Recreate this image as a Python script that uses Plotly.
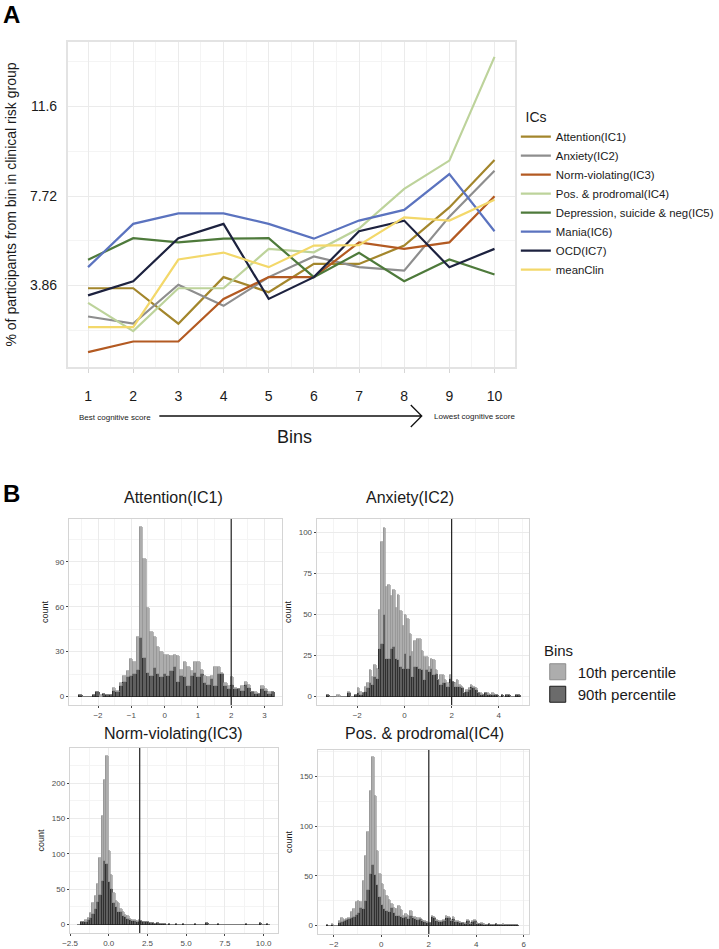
import numpy as np
import plotly.graph_objects as go

W, H = 719, 949
def px(x): return x / W
def py(y): return 1 - y / H

FONT = "Liberation Sans, Arial, Helvetica, sans-serif"

# ---------------- Panel A data ----------------
bins = [1, 2, 3, 4, 5, 6, 7, 8, 9, 10]
ic_names = ["Attention(IC1)", "Anxiety(IC2)", "Norm-violating(IC3)", "Pos. & prodromal(IC4)",
            "Depression, suicide & neg(IC5)", "Mania(IC6)", "OCD(IC7)", "meanClin"]
attention = [3.74, 3.74, 2.21, 4.22, 3.57, 4.79, 4.79, 5.58, 7.23, 9.28]
anxiety = [2.52, 2.21, 3.89, 2.98, 4.22, 5.11, 4.65, 4.50, 6.83, 8.81]
norm_violating = [0.98, 1.44, 1.44, 3.28, 4.22, 4.22, 5.72, 5.44, 5.72, 7.71]
pos_prodromal = [3.11, 1.89, 3.74, 3.74, 5.44, 5.29, 6.32, 8.03, 9.25, 13.73]
depression = [4.97, 5.90, 5.72, 5.88, 5.90, 4.22, 5.27, 4.04, 4.98, 4.33]
mania = [4.65, 6.52, 6.97, 6.97, 6.52, 5.88, 6.66, 7.12, 8.67, 6.20]
ocd = [3.43, 4.04, 5.90, 6.52, 3.28, 4.22, 6.20, 6.66, 4.65, 5.44]
mean_clin = [2.06, 2.06, 4.98, 5.28, 4.65, 5.58, 5.60, 6.80, 6.66, 7.56]
y_ticks_a = [3.86, 7.72, 11.6]
ic_colors = ["#A3862C", "#8E8E8E", "#B35A22", "#BDD39B", "#4E7A3B", "#5B73BF", "#1D223F", "#F3D86A"]

# ---------------- Panel B data (histogram bin counts) ----------------
# each panel: first bin centre, bin width, bar tops (total), 90th percentile counts
att_first, att_width = -2.52, 0.1013
att_total = [1, 0, 0, 0, 1, 3, 1, 2, 1, 1,
             6, 4, 9, 14, 17, 25, 23, 40, 113, 92,
             59, 43, 40, 33, 30, 28, 28, 27, 28, 27,
             18, 23, 20, 17, 23, 23, 18, 14, 13, 14,
             20, 20, 16, 9, 7, 13, 6, 5, 7, 10,
             8, 3, 3, 2, 7, 5, 3, 3]
att_p90 = [1, 0, 0, 0, 1, 3, 0, 2, 1, 1,
           4, 3, 7, 10, 13, 14, 15, 18, 39, 26,
           16, 14, 19, 15, 13, 15, 14, 17, 20, 10,
           14, 13, 7, 14, 16, 13, 15, 9, 8, 12,
           7, 15, 15, 7, 5, 8, 5, 5, 4, 8,
           6, 3, 2, 2, 5, 4, 2, 3]

anx_first, anx_width = -3.24, 0.1
anx_total = [1, 0, 0, 0, 1, 1, 0, 0, 0, 3,
             0, 0, 1, 5, 3, 2, 6, 8, 16, 12,
             19, 17, 53, 94, 103, 67, 68, 61, 65, 54,
             62, 52, 43, 50, 47, 38, 27, 34, 35, 35,
             28, 24, 24, 18, 23, 22, 16, 10, 13, 13,
             10, 8, 13, 9, 8, 10, 7, 6, 2, 4,
             5, 7, 6, 5, 2, 2, 1, 2, 2, 1,
             2, 1, 1, 0, 1, 0, 1, 1, 0, 0,
             1, 1]
anx_p90 = [1, 0, 0, 0, 0, 0, 0, 0, 0, 2,
           0, 0, 1, 2, 1, 2, 3, 5, 8, 7,
           12, 11, 29, 32, 50, 23, 23, 29, 30, 23,
           22, 18, 17, 26, 17, 25, 12, 18, 18, 17,
           16, 10, 16, 15, 17, 13, 14, 10, 7, 8,
           8, 6, 11, 9, 6, 6, 6, 5, 2, 3,
           4, 6, 5, 4, 2, 1, 1, 2, 1, 1,
           1, 1, 1, 0, 1, 0, 1, 1, 0, 0,
           1, 1]

nrm_first, nrm_width = -1.9, 0.15
nrm_total = [0, 3, 4, 6, 9, 16, 30, 40, 57, 94,
             153, 204, 239, 104, 70, 45, 33, 30, 22, 17,
             14, 12, 8, 7, 6, 5, 6, 5, 4, 3,
             3, 2, 2, 1, 2, 1, 1, 1, 0, 1,
             0, 0, 1, 0, 0, 1, 0, 0, 0, 0,
             1, 0, 0, 0, 0, 2, 0, 0, 0, 0,
             1, 0, 0, 0, 0, 0, 0, 0, 0, 0,
             0, 0, 1, 0, 0, 0, 0, 0, 2, 0,
             0, 1, 0]
nrm_p90 = [0, 3, 3, 4, 6, 9, 15, 22, 32, 42,
           62, 90, 85, 60, 50, 30, 25, 18, 18, 12,
           10, 8, 6, 5, 5, 4, 5, 5, 4, 3,
           3, 2, 2, 1, 2, 1, 1, 1, 0, 1,
           0, 0, 1, 0, 0, 1, 0, 0, 0, 0,
           1, 0, 0, 0, 0, 2, 0, 0, 0, 0,
           1, 0, 0, 0, 0, 0, 0, 0, 0, 0,
           0, 0, 1, 0, 0, 0, 0, 0, 2, 0,
           0, 1, 0]

pos_first, pos_width = -2.25, 0.1
pos_total = [1, 0, 2, 0, 0, 5, 8, 6, 7, 8,
             14, 17, 24, 25, 24, 45, 70, 94, 135, 169,
             130, 75, 52, 42, 36, 30, 26, 22, 18, 17,
             20, 16, 10, 12, 10, 15, 9, 9, 8, 8,
             6, 5, 4, 3, 10, 9, 6, 5, 5, 6,
             10, 9, 6, 9, 5, 5, 4, 3, 3, 6,
             3, 5, 6, 3, 2, 3, 2, 1, 2, 1,
             1, 2, 1, 1, 2, 1, 1, 1, 1, 1,
             1]
pos_p90 = [1, 0, 1, 0, 0, 3, 4, 5, 6, 7,
           8, 9, 11, 13, 18, 17, 25, 36, 52, 61,
           51, 41, 29, 21, 17, 15, 14, 18, 13, 10,
           10, 9, 8, 9, 7, 10, 8, 7, 6, 7,
           5, 4, 3, 3, 9, 8, 5, 4, 4, 5,
           8, 8, 5, 7, 4, 4, 3, 3, 2, 5,
           2, 4, 5, 2, 2, 2, 1, 1, 2, 1,
           1, 2, 1, 1, 1, 1, 1, 1, 1, 1,
           1]

hist_titles = ["Attention(IC1)", "Anxiety(IC2)", "Norm-violating(IC3)", "Pos. & prodromal(IC4)"]
group_names = ["10th percentile", "90th percentile"]
threshold = 2

fig = go.Figure()

# ---------------- Panel A ----------------
series_a = [attention, anxiety, norm_violating, pos_prodromal, depression, mania, ocd, mean_clin]
for name, vals, col in zip(ic_names, series_a, ic_colors):
    fig.add_trace(go.Scatter(x=bins, y=vals, mode="lines", name=name,
                             line=dict(color=col, width=2.2),
                             xaxis="x", yaxis="y", legend="legend"))

# ---------------- Panel B ----------------
panels = [
    (att_first, att_width, att_total, att_p90),
    (anx_first, anx_width, anx_total, anx_p90),
    (nrm_first, nrm_width, nrm_total, nrm_p90),
    (pos_first, pos_width, pos_total, pos_p90),
]
LIGHT, LIGHT_LINE = "#adadad", "#8c8c8c"
DARK, DARK_LINE = "#5f5f5f", "#1c1c1c"
for i, (first, width, total, p90) in enumerate(panels):
    n = len(total)
    centers = first + width * np.arange(n)
    p10 = [max(t - d, 0) for t, d in zip(total, p90)]
    xa, ya = f"x{i+2}", f"y{i+2}"
    fig.add_trace(go.Bar(x=centers, y=p90, width=width, name=group_names[1],
                         marker=dict(color=DARK, line=dict(color=DARK_LINE, width=0.7)),
                         xaxis=xa, yaxis=ya, showlegend=False))
    fig.add_trace(go.Bar(x=centers, y=p10, width=width, name=group_names[0],
                         marker=dict(color=LIGHT, line=dict(color=LIGHT_LINE, width=0.6)),
                         xaxis=xa, yaxis=ya, showlegend=False))

# legend entries for the histogram groups
for gname, col, lcol in [(group_names[0], LIGHT, LIGHT_LINE), (group_names[1], "#6b6b6b", DARK_LINE)]:
    fig.add_trace(go.Scatter(x=[None], y=[None], mode="markers", name=gname,
                             marker=dict(symbol="square", size=18, color=col,
                                         line=dict(color=lcol, width=1)),
                             xaxis="x2", yaxis="y2", legend="legend2"))

# ---------------- Layout ----------------
grid = "#ebebeb"
minor_grid = "#f4f4f4"
layout = dict(
    width=W, height=H, autosize=False, margin=dict(l=0, r=0, t=0, b=0),
    paper_bgcolor="white", plot_bgcolor="white",
    font=dict(family=FONT, color="#1a1a1a"),
    barmode="stack", bargap=0,
    xaxis=dict(domain=[px(68), px(517)], range=[0.55, 10.45], anchor="y",
               tickmode="array", tickvals=bins, ticks="outside", ticklen=4, tickcolor="#d6d6d6",
               tickfont=dict(size=14, color="#1a1a1a"), ticklabelstandoff=11,
               showgrid=True, gridcolor=grid, gridwidth=1,
               minor=dict(tickvals=[b + 0.5 for b in bins[:-1]], showgrid=True, gridcolor=minor_grid),
               showline=True, mirror=True, linecolor="#e3e3e3", linewidth=1.5,
               zeroline=False, automargin=False),
    yaxis=dict(domain=[py(367), py(42)], range=[0.34, 14.37], anchor="x",
               tickmode="array", tickvals=y_ticks_a, ticktext=["3.86", "7.72", "11.6"],
               tickfont=dict(size=14, color="#1a1a1a"), ticks="", ticklabelstandoff=6,
               showgrid=True, gridcolor=grid, gridwidth=1,
               minor=dict(tickvals=[1.93, 5.79, 9.65, 13.51], showgrid=True, gridcolor=minor_grid),
               showline=True, mirror=True, linecolor="#e3e3e3", linewidth=1.5,
               zeroline=False, automargin=False,
               title=dict(text="% of participants from bin in clinical risk group",
                          font=dict(size=14, color="#1a1a1a"), standoff=10)),
    legend=dict(x=px(518), y=py(104), xanchor="left", yanchor="top", traceorder="normal",
                title=dict(text="  ICs", font=dict(size=14)),
                font=dict(size=11.4, color="#1a1a1a"), itemwidth=30,
                bgcolor="rgba(0,0,0,0)", tracegroupgap=0),
    legend2=dict(x=px(540), y=py(636), xanchor="left", yanchor="top", traceorder="normal",
                 title=dict(text=" Bins", font=dict(size=15)),
                 font=dict(size=15, color="#1a1a1a"), itemwidth=30,
                 bgcolor="rgba(0,0,0,0)"),
    showlegend=True,
)

hist_specs = [
    # xdomain px, ydomain px(top,bottom), xrange, yrange, x dtick, y dtick, xfmt
    ((69, 283), (519, 705), [-2.88, 3.52], [-5.65, 118.6], 1, 30, None),
    ((318, 531), (519, 705), [-3.72, 5.27], [-5.15, 108.2], 2, 25, None),
    ((70, 279), (748, 933), [-2.52, 10.92], [-12.0, 249.6], 2.5, 50, ".1f"),
    ((319, 531), (750, 934), [-2.68, 6.21], [-8.4, 176.4], 2, 50, None),
]
for i, (xd, yd, xr, yr, xdt, ydt, xfmt) in enumerate(hist_specs):
    k = i + 2
    xa = dict(domain=[px(xd[0]), px(xd[1])], range=xr, anchor=f"y{k}",
              tickmode="linear", tick0=0, dtick=xdt,
              ticks="outside", ticklen=2, tickcolor="#444",
              tickfont=dict(size=8, color="#4d4d4d"),
              showgrid=True, gridcolor=grid,
              minor=dict(tickmode="linear", tick0=0, dtick=xdt / 2, showgrid=True, gridcolor=minor_grid),
              showline=True, mirror=True, linecolor="#d4d4d4", linewidth=1,
              zeroline=False, automargin=False)
    if xfmt:
        xa["tickformat"] = xfmt
    ya = dict(domain=[py(yd[1]), py(yd[0])], range=yr, anchor=f"x{k}",
              tickmode="linear", tick0=0, dtick=ydt,
              ticks="outside", ticklen=2, tickcolor="#444",
              tickfont=dict(size=8, color="#4d4d4d"),
              showgrid=True, gridcolor=grid,
              minor=dict(tickmode="linear", tick0=0, dtick=ydt / 2, showgrid=True, gridcolor=minor_grid),
              showline=True, mirror=True, linecolor="#d4d4d4", linewidth=1,
              zeroline=False, automargin=False,
              title=dict(text="count", font=dict(size=9, color="#1a1a1a"), standoff=5))
    layout[f"xaxis{k}"] = xa
    layout[f"yaxis{k}"] = ya

fig.update_layout(**layout)

# threshold lines in each histogram
for i in range(4):
    k = i + 2
    fig.add_shape(type="line", xref=f"x{k}", yref=f"y{k} domain", x0=threshold, x1=threshold,
                  y0=0, y1=1, line=dict(color="#222222", width=1.2), layer="above")

# arrow under the bins axis (A)
ay = py(416)
path = (f"M {px(160)},{ay} L {px(423)},{ay} "
        f"M {px(412.5)},{py(405)} L {px(423.5)},{ay} L {px(412.5)},{py(427)}")
fig.add_shape(type="path", xref="paper", yref="paper", path=path,
              line=dict(color="#111111", width=1.3))

annos = [
    dict(text="<b>A</b>", x=px(1), y=py(14), xanchor="left", yanchor="middle", font=dict(size=24, color="black")),
    dict(text="<b>B</b>", x=px(1), y=py(493), xanchor="left", yanchor="middle", font=dict(size=24, color="black")),
    dict(text="Best cognitive score", x=px(115), y=py(418), xanchor="center", yanchor="middle", font=dict(size=8)),
    dict(text="Lowest cognitive score", x=px(476), y=py(417), xanchor="center", yanchor="middle", font=dict(size=8)),
    dict(text="Bins", x=px(296), y=py(437), xanchor="center", yanchor="middle", font=dict(size=18)),
    dict(text=hist_titles[0], x=px(174), y=py(497), xanchor="center", yanchor="middle", font=dict(size=16)),
    dict(text=hist_titles[1], x=px(412), y=py(497), xanchor="center", yanchor="middle", font=dict(size=16)),
    dict(text=hist_titles[2], x=px(174), y=py(733), xanchor="center", yanchor="middle", font=dict(size=16)),
    dict(text=hist_titles[3], x=px(426), y=py(733), xanchor="center", yanchor="middle", font=dict(size=16)),
]
for a in annos:
    fig.add_annotation(xref="paper", yref="paper", showarrow=False, **a)

fig.write_html(
    "out.html",
    config={"displayModeBar": False, "responsive": False},
    post_script=("document.body.style.margin='0';document.body.style.overflow='hidden';"
                 "var gd=document.getElementById('{plot_id}');gd.style.width='719px';gd.style.height='949px';"
                 "Plotly.relayout(gd,{width:719,height:949});"),
)
